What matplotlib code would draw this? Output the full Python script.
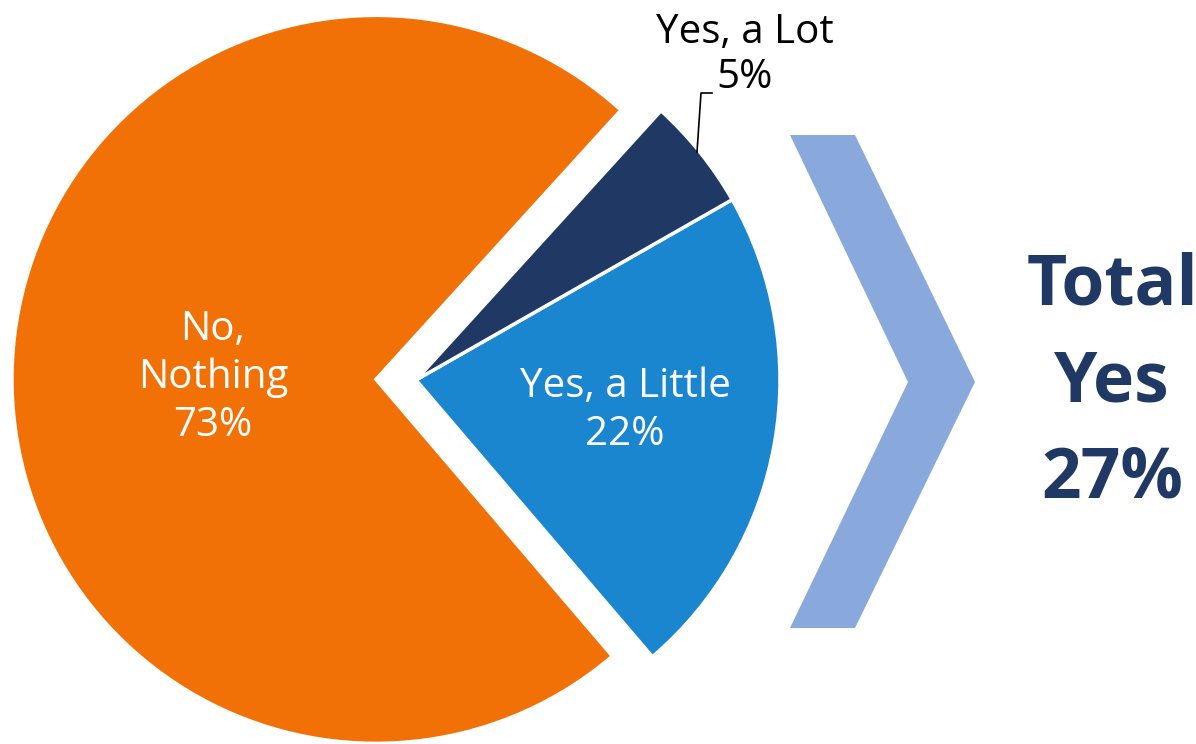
import matplotlib.pyplot as plt
from matplotlib.patches import Polygon

labels = ["Yes, a Little", "Yes, a Lot", "No,\nNothing"]
shares = [22, 5, 73]
colors = ["#1a86d0", "#1f3864", "#f27106"]
explode = [0, 0, 0.11]
total_yes = shares[0] + shares[1]

W, H = 1196, 744
fig = plt.figure(figsize=(W / 100, H / 100), dpi=100)
ax = fig.add_axes([0, 0, 1, 1])

# pie centre in pixel coords (y flipped), explode is absolute in matplotlib
cx, cy, r = 416, H - 380, 364
wedges, _ = ax.pie(shares, colors=colors, explode=[e * r for e in explode],
                   startangle=-49.5, counterclock=True, center=(cx, cy), radius=r,
                   frame=True, wedgeprops=dict(edgecolor="white", linewidth=2.5))
ax.set_xlim(0, W)
ax.set_ylim(0, H)
ax.set_aspect("equal")
ax.axis("off")

fs = 29
font = ["Open Sans", "DejaVu Sans"]
ax.text(213, H - 378, f"{labels[2]}\n{shares[2]}%", color="white", fontsize=fs,
        ha="center", va="center", family=font, linespacing=1.25)
ax.text(625, H - 411, f"{labels[0]}\n{shares[0]}%", color="white", fontsize=fs,
        ha="center", va="center", family=font, linespacing=1.25)
ax.text(745, H - 55, f"{labels[1]}\n{shares[1]}%", color="black", fontsize=fs,
        ha="center", va="center", family=font, linespacing=1.15)
ax.plot([697, 701, 712], [H - 152, H - 93, H - 93], color="black", lw=1.2)

# chevron
chev = [(790, 135), (855, 135), (975, 382), (855, 628), (790, 628), (908, 382)]
ax.add_patch(Polygon([(x, H - y) for x, y in chev], closed=True,
                     facecolor="#89a9dc", edgecolor="none"))

ax.text(1112, H - 383, f"Total\nYes\n{total_yes}%", color="#1f3864", fontsize=50,
        fontweight="bold", ha="center", va="center", family=font, linespacing=1.5)

fig.savefig("out.png", dpi=100)
